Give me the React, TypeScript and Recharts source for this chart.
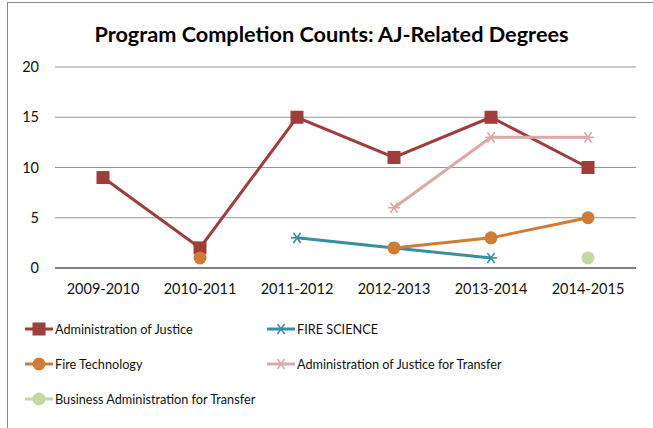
import React from "react";
import { LineChart, Line, XAxis, YAxis, CartesianGrid, ReferenceLine } from "recharts";

const categories = ["2009-2010", "2010-2011", "2011-2012", "2012-2013", "2013-2014", "2014-2015"];
const adminJustice = [9, 2, 15, 11, 15, 10];
const fireScience = [null, null, 3, 2, 1, null];
const fireTechnology = [null, 1, null, 2, 3, 5];
const ajTransfer = [null, null, null, 6, 13, 13];
const businessTransfer = [null, null, null, null, null, 1];
const yTicks = [0, 5, 10, 15, 20];

const data = categories.map((c, i) => ({
  name: c,
  aj: adminJustice[i],
  fs: fireScience[i],
  ft: fireTechnology[i],
  ajt: ajTransfer[i],
  ba: businessTransfer[i],
}));

type Shape = "square" | "circle" | "star";
const series: { key: string; label: string; color: string; shape: Shape }[] = [
  { key: "aj", label: "Administration of Justice", color: "#9E3D3A", shape: "square" },
  { key: "fs", label: "FIRE SCIENCE", color: "#3A8EA2", shape: "star" },
  { key: "ft", label: "Fire Technology", color: "#D17C35", shape: "circle" },
  { key: "ajt", label: "Administration of Justice for Transfer", color: "#DDA8A7", shape: "star" },
  { key: "ba", label: "Business Administration for Transfer", color: "#C5D7A2", shape: "circle" },
];

const FONT = "Lato, 'Noto Sans', sans-serif";

function Marker({ cx, cy, shape, color }: { cx: number; cy: number; shape: Shape; color: string }) {
  if (cx == null || cy == null || isNaN(cx) || isNaN(cy)) return null;
  if (shape === "square") {
    return <rect x={cx - 6.5} y={cy - 6.5} width={13} height={13} fill={color} />;
  }
  if (shape === "circle") {
    return <circle cx={cx} cy={cy} r={6.5} fill={color} />;
  }
  const r = 6;
  return (
    <g stroke={color} strokeWidth={1.6}>
      <line x1={cx - r} y1={cy} x2={cx + r} y2={cy} />
      <line x1={cx - r * 0.6} y1={cy - r * 0.85} x2={cx + r * 0.6} y2={cy + r * 0.85} />
      <line x1={cx - r * 0.6} y1={cy + r * 0.85} x2={cx + r * 0.6} y2={cy - r * 0.85} />
    </g>
  );
}

function makeDot(shape: Shape, color: string) {
  return (props: any) => {
    const { cx, cy, value, index } = props;
    if (value == null) return <g key={index} />;
    return <Marker key={index} cx={cx} cy={cy} shape={shape} color={color} />;
  };
}

function LegendItem({ s, x, y }: { s: (typeof series)[number]; x: number; y: number }) {
  return (
    <div style={{ position: "absolute", left: x, top: y - 10, height: 20, display: "flex", alignItems: "center" }}>
      <svg width={29} height={20}>
        <line x1={0} y1={10} x2={28} y2={10} stroke={s.color} strokeWidth={3} />
        <Marker cx={14} cy={10} shape={s.shape} color={s.color} />
      </svg>
      <span style={{ fontFamily: FONT, fontSize: 12.7, color: "#111", marginLeft: 1 }}>{s.label}</span>
    </div>
  );
}

export default function App() {
  const legendPos = [
    { x: 25, y: 329 },
    { x: 267, y: 329 },
    { x: 25, y: 364 },
    { x: 267, y: 364 },
    { x: 25, y: 399 },
  ];
  return (
    <div style={{ position: "absolute", left: 0, top: 0, width: 653, height: 428, background: "#fff" }}>
      <div style={{ position: "absolute", left: 7, top: 2, width: 646, height: 426, borderLeft: "1px solid #8a8a8a", borderTop: "1px solid #8a8a8a" }} />
      <div
        style={{
          position: "absolute",
          left: 0,
          width: 653,
          top: 21,
          textAlign: "center",
          fontFamily: FONT,
          fontWeight: 700,
          fontSize: 21.7,
          color: "#000",
          paddingLeft: 10,
          boxSizing: "border-box",
        }}
      >
        Program Completion Counts: AJ-Related Degrees
      </div>
      <div style={{ position: "absolute", left: 0, top: 0 }}>
        <LineChart width={653} height={428} data={data} margin={{ top: 67, right: 17, bottom: 130, left: 7 }}>
          <CartesianGrid vertical={false} stroke="#969696" strokeWidth={1} />
          <XAxis
            dataKey="name"
            padding={{ left: 48, right: 48 }}
            tickLine={false}
            axisLine={false}
            tickSize={0}
            tickMargin={16}
            height={30}
            tick={{ fontFamily: FONT, fontSize: 14.5, fill: "#111" }}
          />
          <YAxis
            domain={[0, 20]}
            ticks={yTicks}
            width={48}
            tickLine={false}
            axisLine={false}
            tickSize={0}
            tickMargin={16}
            tick={{ fontFamily: FONT, fontSize: 14.5, fill: "#111" }}
          />
          <ReferenceLine y={0} stroke="#808080" strokeWidth={2} />
          {series.map((s) => (
            <Line
              key={s.key}
              dataKey={s.key}
              stroke={s.color}
              strokeWidth={3}
              connectNulls={false}
              isAnimationActive={false}
              dot={makeDot(s.shape, s.color)}
              activeDot={false}
            />
          ))}
        </LineChart>
      </div>
      {series.map((s, i) => (
        <LegendItem key={s.key} s={s} x={legendPos[i].x} y={legendPos[i].y} />
      ))}
    </div>
  );
}
